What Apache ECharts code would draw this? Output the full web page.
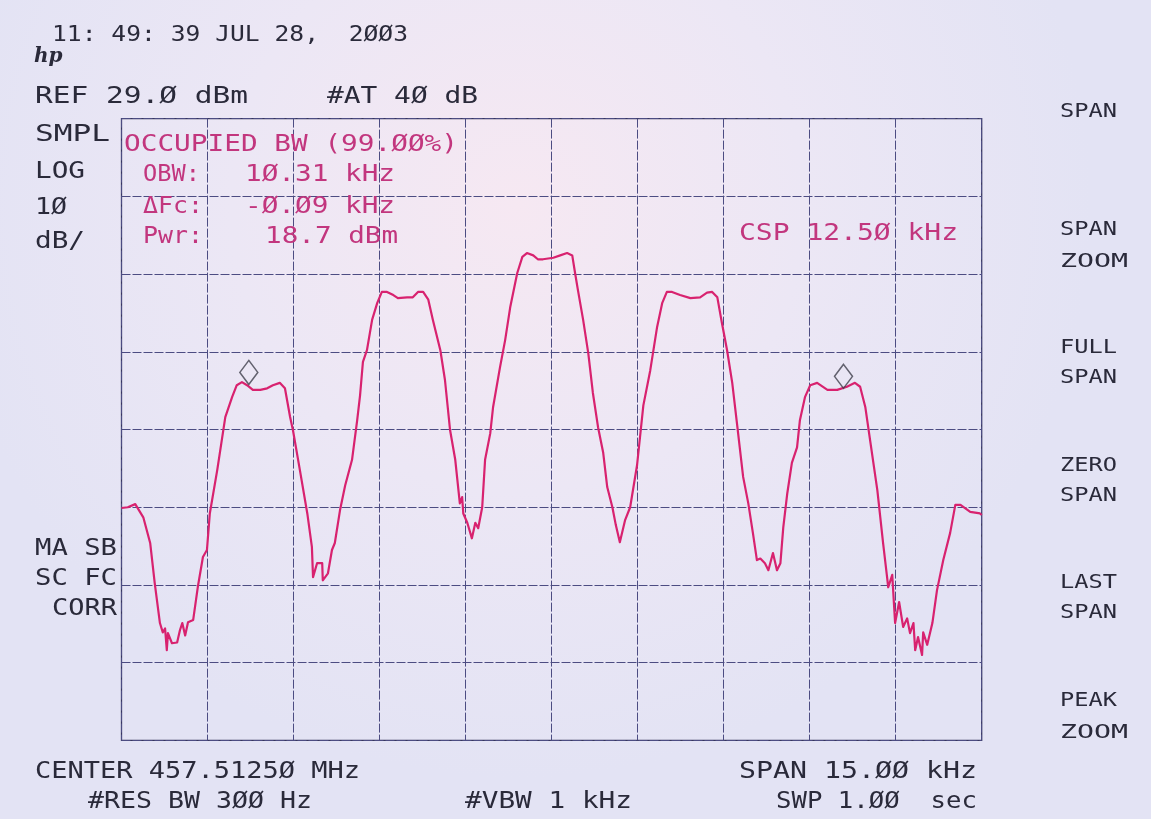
<!DOCTYPE html>
<html>
<head>
<meta charset="utf-8">
<script src="https://cdn.jsdelivr.net/npm/echarts@6/dist/echarts.min.js"></script>
<style>
html, body { margin: 0; padding: 0; background: #e8e6f5; }
#main { width: 1151px; height: 819px; }
</style>
</head>
<body>
<div id="main"></div>
<script>
var chart = echarts.init(document.getElementById('main'));

// trace, frequency offset from centre (kHz) and level (dBm)
var freqKHz = [
  -7.50, -7.39, -7.26, -7.12, -7.00, -6.92, -6.83, -6.78, -6.74, -6.71,
  -6.69, -6.62, -6.53, -6.48, -6.44, -6.39, -6.34, -6.25, -6.17, -6.08,
  -6.01, -5.96, -5.83, -5.69, -5.57, -5.49, -5.40, -5.31, -5.21, -5.08,
  -4.96, -4.86, -4.74, -4.65, -4.56, -4.51, -4.39, -4.26, -4.18, -4.16,
  -4.09, -4.00, -3.99, -3.90, -3.83, -3.78, -3.69, -3.60, -3.48, -3.39,
  -3.34, -3.29, -3.22, -3.13, -3.04, -2.96, -2.87, -2.76, -2.68, -2.52,
  -2.42, -2.33, -2.24, -2.15, -2.07, -1.94, -1.86, -1.77, -1.68, -1.60,
  -1.56, -1.54, -1.47, -1.39, -1.33, -1.28, -1.21, -1.16, -1.07, -1.02,
  -0.90, -0.81, -0.72, -0.60, -0.51, -0.43, -0.32, -0.24, -0.15, 0.03,
  0.15, 0.27, 0.36, 0.41, 0.46, 0.55, 0.64, 0.72, 0.81, 0.90,
  0.97, 1.06, 1.12, 1.19, 1.28, 1.37, 1.49, 1.60, 1.72, 1.84,
  1.93, 2.01, 2.10, 2.24, 2.42, 2.59, 2.71, 2.80, 2.89, 2.97,
  3.06, 3.15, 3.24, 3.34, 3.43, 3.51, 3.58, 3.64, 3.72, 3.78,
  3.86, 3.93, 3.99, 4.04, 4.11, 4.19, 4.28, 4.33, 4.42, 4.51,
  4.63, 4.81, 4.98, 5.15, 5.29, 5.38, 5.47, 5.56, 5.68, 5.78,
  5.85, 5.87, 5.94, 5.99, 6.06, 6.13, 6.20, 6.25, 6.31, 6.34,
  6.39, 6.46, 6.48, 6.55, 6.64, 6.72, 6.83, 6.95, 7.04, 7.13,
  7.30, 7.47, 7.50
];
var levelDBm = [
  -21.1, -21.0, -20.6, -22.3, -25.6, -30.8, -35.9, -37.1, -36.6, -39.4,
  -37.2, -38.5, -38.4, -36.8, -35.9, -37.5, -35.8, -35.5, -31.3, -27.4,
  -26.5, -21.8, -16.2, -9.4, -6.8, -5.3, -4.9, -5.3, -5.9, -5.9,
  -5.7, -5.3, -5.0, -5.7, -9.4, -11.1, -16.2, -21.8, -26.1, -30.0,
  -28.2, -28.2, -30.4, -29.5, -26.5, -25.6, -21.4, -18.2, -14.9, -9.8,
  -6.6, -2.3, -0.8, 3.1, 5.3, 6.7, 6.7, 6.3, 5.9, 6.0,
  6.0, 6.7, 6.7, 5.7, 3.1, -0.8, -4.6, -11.1, -14.9, -20.5,
  -19.7, -21.8, -23.0, -25.0, -23.0, -23.7, -21.0, -14.9, -11.5, -8.1,
  -3.0, 0.5, 4.8, 9.1, 11.2, 11.7, 11.4, 10.9, 10.9, 11.1,
  11.4, 11.7, 11.4, 9.1, 6.9, 3.1, -1.2, -6.3, -10.7, -14.0,
  -18.4, -21.0, -23.3, -25.5, -22.7, -21.0, -15.6, -7.9, -3.4, 2.2,
  5.3, 6.7, 6.7, 6.3, 5.9, 6.0, 6.6, 6.7, 6.0, 2.7,
  -0.8, -5.0, -10.7, -17.1, -20.5, -24.3, -27.8, -27.6, -28.2, -29.1,
  -26.9, -29.1, -28.2, -23.6, -19.2, -15.3, -13.3, -9.8, -6.8, -5.3,
  -5.0, -5.9, -5.9, -5.5, -5.0, -5.5, -8.1, -12.7, -18.8, -25.6,
  -30.0, -31.3, -29.7, -35.9, -33.2, -36.4, -35.3, -37.2, -35.9, -39.4,
  -37.7, -40.0, -37.1, -38.7, -35.9, -31.7, -27.8, -24.3, -20.7, -20.7,
  -21.6, -21.8, -22.0
];

// occupied-bandwidth markers
var markerFreq = [-5.28, 5.09];
var markerLevel = [-5.2, -5.7];

var refLevel = 29;     // dBm, top graticule line
var dbPerDiv = 10;
var vDivs = 8;
var halfSpan = 7.5;    // kHz
var kHzPerDiv = 1.5;

var ink = '#2a2a3a';
var pink = '#c2367e';

// text in the analyser's plotter font, stretched to the width it has on paper
var ctx = document.createElement('canvas').getContext('2d');
function label(text, x, y, x2, size, color) {
  var font = size + 'px "DejaVu Sans Mono"';
  ctx.font = font;
  var w = ctx.measureText(text).width;
  return {
    type: 'text', x: x, y: y, scaleX: (x2 - x) / w, z: 100,
    style: { text: text, font: font, fill: color || ink, verticalAlign: 'middle' }
  };
}

var texts = [
  label('11: 49: 39 JUL 28,  2ØØ3', 52, 35, 408, 22),
  label('REF 29.Ø dBm', 35, 97, 248, 23),
  label('#AT 4Ø dB', 327, 97, 478, 23),
  label('SMPL', 35, 135, 110, 23),
  label('LOG', 35, 172, 85, 23),
  label('1Ø', 35, 208, 67, 23),
  label('dB/', 35, 242, 85, 23),
  label('MA SB', 35, 549, 117, 23),
  label('SC FC', 35, 579, 117, 23),
  label('CORR', 52, 609, 117, 23),
  label('OCCUPIED BW (99.ØØ%)', 124, 145, 458, 23, pink),
  label('OBW:', 143, 175, 200, 23, pink),
  label('1Ø.31 kHz', 245, 175, 395, 23, pink),
  label('ΔFc:', 143, 207, 203, 23, pink),
  label('-Ø.Ø9 kHz', 245, 207, 395, 23, pink),
  label('Pwr:', 143, 237, 203, 23, pink),
  label('18.7 dBm', 265, 237, 398, 23, pink),
  label('CSP 12.5Ø kHz', 739, 234, 958, 23, pink),
  label('CENTER 457.5125Ø MHz', 35, 772, 360, 23),
  label('#RES BW 3ØØ Hz', 88, 802, 312, 23),
  label('#VBW 1 kHz', 465, 802, 632, 23),
  label('SPAN 15.ØØ kHz', 739, 772, 977, 23),
  label('SWP 1.ØØ  sec', 776, 802, 977, 23)
];

// softkey labels down the right side
var softkeys = [
  ['SPAN', 112], ['SPAN', 230], ['ZOOM', 262], ['FULL', 348], ['SPAN', 378],
  ['ZERO', 466], ['SPAN', 496], ['LAST', 583], ['SPAN', 613], ['PEAK', 701], ['ZOOM', 733]
];
softkeys.forEach(function (k) {
  texts.push(label(k[0], 1060, k[1], k[0] === 'ZOOM' ? 1128 : 1117, 20));
});

texts.push({
  type: 'text', x: 34, y: 57, z: 100,
  style: { text: 'hp', font: 'italic bold 20px "DejaVu Serif"', fill: ink, verticalAlign: 'middle' }
});

var bg = {
  type: 'rect', z: -100, silent: true,
  shape: { x: 0, y: 0, width: 1151, height: 819 },
  style: {
    fill: new echarts.graphic.RadialGradient(0.45, 0.25, 0.7, [
      { offset: 0, color: '#f6e8f2' },
      { offset: 0.5, color: '#ece7f5' },
      { offset: 1, color: '#e3e3f4' }
    ])
  }
};

var gridLine = { color: '#4c4c82', width: 1, type: [9, 2] };

var option = {
  animation: false,
  grid: {
    left: 121.5, right: 1151 - 981.7, top: 118.6, bottom: 819 - 740.4,
    show: true, borderColor: '#38385e', borderWidth: 1.3, backgroundColor: 'transparent'
  },
  xAxis: {
    type: 'value', min: -halfSpan, max: halfSpan, interval: kHzPerDiv,
    axisLine: { show: false }, axisTick: { show: false }, axisLabel: { show: false },
    splitLine: { show: true, lineStyle: gridLine }
  },
  yAxis: [
    {
      type: 'value', min: refLevel - dbPerDiv * vDivs, max: refLevel,
      axisLine: { show: false }, axisTick: { show: false }, axisLabel: { show: false },
      splitLine: { show: false }
    },
    {
      // graticule only: divisions below the reference level
      type: 'value', min: 0, max: dbPerDiv * vDivs, interval: dbPerDiv, position: 'left',
      axisLine: { show: false }, axisTick: { show: false }, axisLabel: { show: false },
      splitLine: { show: true, lineStyle: gridLine }
    }
  ],
  series: [
    {
      type: 'line',
      data: freqKHz.map(function (f, i) { return [f, levelDBm[i]]; }),
      showSymbol: false,
      lineStyle: { color: '#d8226f', width: 2.2, join: 'round' },
      z: 3
    },
    {
      type: 'scatter',
      data: markerFreq.map(function (f, i) { return [f, markerLevel[i]]; }),
      symbol: 'diamond',
      symbolSize: [18, 24],
      symbolOffset: [0, -12],
      itemStyle: { color: 'rgba(0,0,0,0)', borderColor: '#40404c', borderWidth: 1.5 },
      z: 4
    }
  ],
  graphic: [bg].concat(texts)
};

chart.setOption(option);
</script>
</body>
</html>
